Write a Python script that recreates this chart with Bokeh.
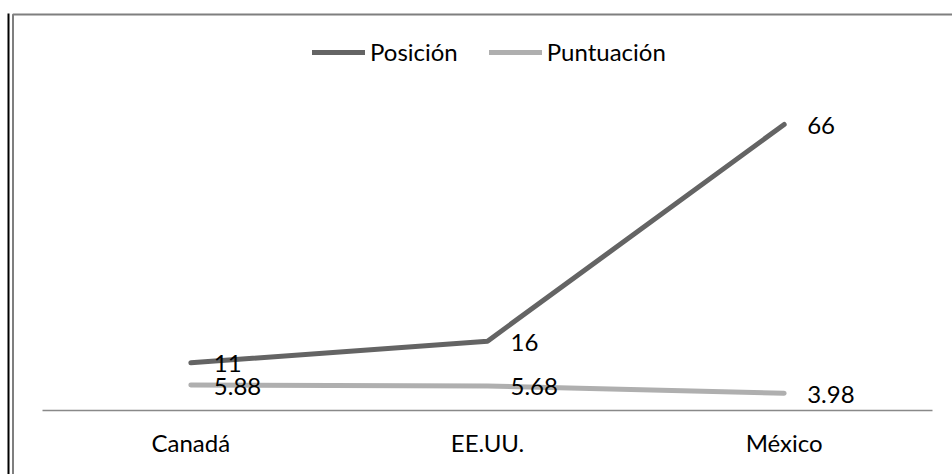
from bokeh.plotting import figure
from bokeh.models import Range1d, ColumnDataSource, Legend, LegendItem, BoxAnnotation, FixedTicker
from bokeh.core.properties import value
from bokeh.embed import file_html
from bokeh.resources import INLINE

categories = ["Canadá", "EE.UU.", "México"]
posicion = [11, 16, 66]
puntuacion = [5.88, 5.68, 3.98]
series_names = ["Posición", "Puntuación"]

FONT = "Lato"
FS = "24px"
DARK = "#646464"
LIGHT = "#afafaf"

W, H = 952, 474
# pixel layout of the category band / value axis
AX_LEFT, AX_RIGHT, AX_Y = 42, 932, 410
SX = (AX_RIGHT - AX_LEFT) / len(categories)   # px per category
SY = 4.3333                                   # px per value unit
X0 = -0.5 - AX_LEFT / SX
X1 = X0 + W / SX
Y1 = AX_Y / SY
Y0 = Y1 - H / SY

def px_x(px):
    return X0 + px / SX

def px_y(py):
    return Y1 - py / SY

xs = list(range(len(categories)))

p = figure(width=W, height=H, output_backend="svg", toolbar_location=None,
           x_range=Range1d(X0, X1), y_range=Range1d(Y0, Y1),
           min_border_left=0, min_border_right=0, min_border_top=0, min_border_bottom=0)
p.outline_line_color = None
p.xgrid.visible = False
p.ygrid.visible = False
p.yaxis.visible = False
p.background_fill_color = "white"
p.border_fill_color = "white"

ax = p.xaxis[0]
ax.fixed_location = 0
ax.ticker = FixedTicker(ticks=xs)
ax.major_label_overrides = {i: c for i, c in zip(xs, categories)}
ax.axis_line_color = None
ax.major_tick_line_color = None
ax.minor_tick_line_color = None
ax.major_label_text_font = FONT
ax.major_label_text_font_size = FS
ax.major_label_text_color = "#000000"
ax.major_label_standoff = 11

# visible axis line spanning the category band
p.segment(x0=[-0.5], y0=[0], x1=[len(categories) - 0.5], y1=[0],
          line_color="#898989", line_width=1.5)

src_pos = ColumnDataSource(dict(x=xs, y=posicion, t=[str(v) for v in posicion]))
src_pun = ColumnDataSource(dict(x=xs, y=puntuacion, t=[f"{v:.2f}" for v in puntuacion]))

r1 = p.line("x", "y", source=src_pos, line_color=DARK, line_width=5, line_cap="round", line_join="round")
r2 = p.line("x", "y", source=src_pun, line_color=LIGHT, line_width=5, line_cap="round", line_join="round")

for src in (src_pos, src_pun):
    p.text("x", "y", text="t", source=src, x_offset=23, y_offset=1,
           text_font=value(FONT), text_font_size=FS, text_color="#000000",
           text_baseline="middle", text_align="left")

legend = Legend(items=[LegendItem(label=series_names[0], renderers=[r1]),
                       LegendItem(label=series_names[1], renderers=[r2])],
                location=(312, 408), orientation="horizontal",
                glyph_width=53, glyph_height=20, label_standoff=5, spacing=31,
                padding=0, margin=0, border_line_color=None, background_fill_alpha=0,
                label_text_font=FONT, label_text_font_size=FS, label_text_color="#000000")
p.add_layout(legend, "center")

# document frame lines (left/top)
frame_border = BoxAnnotation(left=px_x(12.5), right=X1 + 1, top=px_y(14), bottom=Y0 - 1,
                             fill_alpha=0, line_color="#7f7f7f", line_alpha=1, line_width=2,
                             level="underlay")
black_border = BoxAnnotation(left=px_x(7), right=px_x(9), top=px_y(13), bottom=Y0 - 1,
                             fill_color="black", fill_alpha=1, line_color=None, level="underlay")
p.add_layout(frame_border)
p.add_layout(black_border)

open("out.html", "w").write(file_html(p, INLINE))
